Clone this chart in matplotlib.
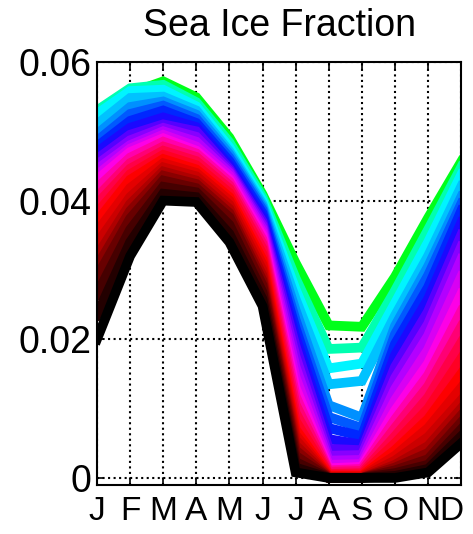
import numpy as np
import matplotlib
matplotlib.use('Agg')
import matplotlib.pyplot as plt
from matplotlib.colors import LinearSegmentedColormap
from matplotlib.transforms import ScaledTranslation

months = ['J', 'F', 'M', 'A', 'M', 'J', 'J', 'A', 'S', 'O', 'N', 'D']

# monthly sea ice fraction, one value per run (run order = colour order, low -> high)
jan = [0.0200, 0.0235, 0.0265, 0.0290, 0.0305, 0.0320, 0.0338, 0.0355, 0.0370, 0.0382, 0.0395, 0.0405, 0.0418,
       0.0430, 0.0437, 0.0445, 0.0452, 0.0460, 0.0470, 0.0478, 0.0486, 0.0496, 0.0510, 0.0525, 0.0530, 0.0515]
feb = [0.0320, 0.0340, 0.0358, 0.0374, 0.0385, 0.0395, 0.0405, 0.0418, 0.0430, 0.0438, 0.0446, 0.0454, 0.0462,
       0.0470, 0.0475, 0.0480, 0.0487, 0.0495, 0.0505, 0.0515, 0.0525, 0.0535, 0.0548, 0.0558, 0.0562, 0.0555]
mar = [0.0400, 0.0410, 0.0420, 0.0429, 0.0436, 0.0442, 0.0448, 0.0454, 0.0460, 0.0466, 0.0472, 0.0478, 0.0485,
       0.0490, 0.0495, 0.0500, 0.0505, 0.0510, 0.0520, 0.0530, 0.0537, 0.0543, 0.0550, 0.0560, 0.0567, 0.0572]
apr = [0.0398, 0.0405, 0.0412, 0.0418, 0.0424, 0.0429, 0.0435, 0.0440, 0.0445, 0.0451, 0.0457, 0.0463, 0.0468,
       0.0472, 0.0478, 0.0485, 0.0492, 0.0500, 0.0506, 0.0512, 0.0518, 0.0524, 0.0530, 0.0536, 0.0542, 0.0549]
may = [0.0340, 0.0352, 0.0365, 0.0376, 0.0382, 0.0388, 0.0394, 0.0400, 0.0405, 0.0411, 0.0417, 0.0422, 0.0427,
       0.0431, 0.0436, 0.0440, 0.0443, 0.0446, 0.0451, 0.0457, 0.0462, 0.0467, 0.0471, 0.0477, 0.0484, 0.0491]
jun = [0.0248, 0.0258, 0.0268, 0.0278, 0.0285, 0.0292, 0.0300, 0.0308, 0.0315, 0.0323, 0.0331, 0.0338, 0.0344,
       0.0350, 0.0355, 0.0360, 0.0365, 0.0370, 0.0376, 0.0382, 0.0387, 0.0391, 0.0395, 0.0400, 0.0405, 0.0409]
jul = [0.0008, 0.0015, 0.0023, 0.0032, 0.0040, 0.0047, 0.0055, 0.0062, 0.0070, 0.0082, 0.0094, 0.0106, 0.0118,
       0.0130, 0.0145, 0.0160, 0.0175, 0.0190, 0.0203, 0.0216, 0.0228, 0.0242, 0.0258, 0.0272, 0.0288, 0.0310]
aug = [0.0000, 0.0000, 0.0000, 0.0000, 0.0000, 0.0001, 0.0001, 0.0002, 0.0003, 0.0005, 0.0006, 0.0009, 0.0011,
       0.0014, 0.0019, 0.0025, 0.0032, 0.0042, 0.0056, 0.0072, 0.0088, 0.0105, 0.0135, 0.0158, 0.0186, 0.0220]
sep = [0.0000, 0.0000, 0.0000, 0.0000, 0.0000, 0.0000, 0.0001, 0.0002, 0.0003, 0.0005, 0.0007, 0.0010, 0.0013,
       0.0016, 0.0020, 0.0026, 0.0033, 0.0040, 0.0048, 0.0060, 0.0072, 0.0087, 0.0140, 0.0165, 0.0188, 0.0218]
oct_ = [0.0000, 0.0003, 0.0007, 0.0011, 0.0015, 0.0019, 0.0025, 0.0032, 0.0040, 0.0050, 0.0060, 0.0072, 0.0084,
        0.0097, 0.0112, 0.0128, 0.0144, 0.0160, 0.0177, 0.0193, 0.0207, 0.0219, 0.0234, 0.0252, 0.0270, 0.0290]
nov = [0.0008, 0.0013, 0.0019, 0.0027, 0.0036, 0.0046, 0.0059, 0.0072, 0.0085, 0.0100, 0.0116, 0.0132, 0.0148,
       0.0165, 0.0185, 0.0205, 0.0222, 0.0240, 0.0258, 0.0275, 0.0292, 0.0305, 0.0320, 0.0340, 0.0358, 0.0375]
dec = [0.0050, 0.0060, 0.0070, 0.0080, 0.0090, 0.0100, 0.0112, 0.0130, 0.0150, 0.0172, 0.0195, 0.0218, 0.0240,
       0.0265, 0.0290, 0.0315, 0.0333, 0.0350, 0.0368, 0.0385, 0.0395, 0.0405, 0.0420, 0.0437, 0.0448, 0.0456]

yticks = [0, 0.02, 0.04, 0.06]
ylabels = ['0', '0.02', '0.04', '0.06']

runs = np.column_stack([jan, feb, mar, apr, may, jun, jul, aug, sep, oct_, nov, dec])
x = np.arange(1, 13)

cmap = LinearSegmentedColormap.from_list('ice', [
    (0.00, (0, 0, 0)), (0.10, (0.35, 0, 0)), (0.22, (0.75, 0, 0)), (0.32, (1, 0, 0)),
    (0.42, (1, 0, 0.35)), (0.52, (1, 0, 0.9)), (0.60, (0.7, 0, 1)), (0.68, (0.35, 0, 1)),
    (0.74, (0, 0.05, 1)), (0.82, (0, 0.45, 1)), (0.88, (0, 0.75, 1)), (0.93, (0, 1, 1)),
    (0.97, (0, 1, 0.6)), (1.00, (0, 1, 0.1))])

plt.rcParams['font.family'] = ['Liberation Sans', 'DejaVu Sans']
fig = plt.figure(figsize=(4.73, 5.34), dpi=100)
ax = fig.add_axes([0.205, 0.092, 0.77, 0.792])

n = runs.shape[0]
# last run first, so the dark runs end up on top
for i in range(n - 1, -1, -1):
    ax.plot(x, runs[i], color=cmap(i / (n - 1)), lw=7, solid_joinstyle='miter')

ax.set_xlim(1, 12)
ax.set_ylim(-0.001, 0.06)
ax.set_xticks(x)
ax.set_xticklabels(months)
ax.set_yticks(yticks)
ax.set_yticklabels(ylabels)
ax.grid(True, color='black', linestyle=':', lw=1.5)
ax.tick_params(direction='in', length=5, width=1.2, top=True, right=True)
ax.tick_params(axis='y', labelsize=27, pad=4)
ax.tick_params(axis='x', labelsize=24, pad=8)
for s in ax.spines.values():
    s.set_linewidth(1.5)
ax.set_title('Sea Ice Fraction', fontsize=27, pad=19)

# nudge the last month label inward so it stays inside the figure
last = ax.get_xticklabels()[-1]
last.set_transform(last.get_transform() + ScaledTranslation(-7 / 72, 0, fig.dpi_scale_trans))

fig.savefig('out.png', dpi=100)
